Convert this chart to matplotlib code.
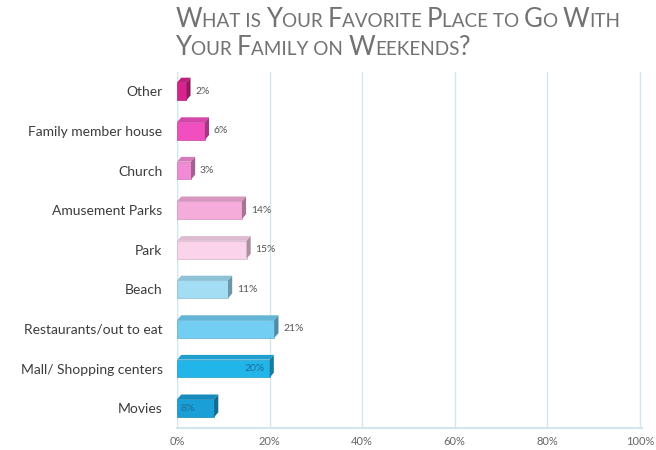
import numpy as np
import matplotlib
matplotlib.use("Agg")
import matplotlib.pyplot as plt
from matplotlib.patches import Polygon

# data, top to bottom as in the picture
categories = ["Other", "Family member house", "Church", "Amusement Parks", "Park",
              "Beach", "Restaurants/out to eat", "Mall/ Shopping centers", "Movies"]
values = [2, 6, 3, 14, 15, 11, 21, 20, 8]
bar_colors = ["#d8238f", "#f14fbf", "#f28bd6", "#f6acda", "#fbd4ec",
              "#a3ddf4", "#72cef2", "#22b5ea", "#1a9fd6"]
inside_label = [False, False, False, False, False, False, False, True, True]
x_ticks = [0, 20, 40, 60, 80, 100]
x_tick_labels = ["0%", "20%", "40%", "60%", "80%", "100%"]
title_lines = ["What is Your Favorite Place to Go With", "Your Family on Weekends?"]

FONT = "Lato"


def darken(c, f):
    r, g, b = matplotlib.colors.to_rgb(c)
    return (r * f, g * f, b * f)


def small_caps(fig, x, y, text, big=18.5, small=13.6, color="#727272", family=FONT):
    # fake small caps: capitals at full size, rest upper-cased at a smaller size
    renderer = fig.canvas.get_renderer()
    chunks = []
    for ch in text:
        size = big if (ch.isupper() or ch == "?") else small
        if chunks and chunks[-1][1] == size:
            chunks[-1][0] += ch
        else:
            chunks.append([ch, size])
    px = x * fig.bbox.width
    for s, size in chunks:
        t = fig.text(px / fig.bbox.width, y, s.upper(), fontsize=size, color=color,
                     family=family, va="baseline", ha="left")
        bb = t.get_window_extent(renderer)
        px += bb.width


fig = plt.figure(figsize=(6.56, 4.5), dpi=100)
ax = fig.add_axes([0.27, 0.049, 0.709, 0.792])

n = len(categories)
ypos = np.arange(n)[::-1]
h = 0.45
dx, dy = 0.9, 0.12

for y, v, c, inside in zip(ypos, values, bar_colors, inside_label):
    ax.barh(y, v, height=h, color=c, edgecolor=darken(c, 0.85), linewidth=0.5, zorder=3)
    # top face
    top = Polygon([(0, y + h / 2), (v, y + h / 2), (v + dx, y + h / 2 + dy), (dx, y + h / 2 + dy)],
                  closed=True, facecolor=darken(c, 0.88), edgecolor="none", zorder=3)
    # side face
    side = Polygon([(v, y - h / 2), (v + dx, y - h / 2 + dy), (v + dx, y + h / 2 + dy), (v, y + h / 2)],
                   closed=True, facecolor=darken(c, 0.68), edgecolor="none", zorder=3)
    ax.add_patch(top)
    ax.add_patch(side)
    label = "%d%%" % v
    if inside:
        if v > 10:
            ax.text(v - 1.0, y, label, ha="right", va="center", fontsize=7.5,
                    color="#1b6f99", family=FONT, zorder=4)
        else:
            ax.text(0.8, y, label, ha="left", va="center", fontsize=7.5,
                    color="#1b6f99", family=FONT, zorder=4)
    else:
        ax.text(v + dx + 1.0, y, label, ha="left", va="center", fontsize=7.5,
                color="#555555", family=FONT, zorder=4)

ax.set_xlim(0, 100.5)
ax.set_ylim(-0.5, n - 0.5)
ax.set_yticks(ypos)
ax.set_yticklabels(categories, fontsize=10, color="#3c3c3c", family=FONT)
ax.set_xticks(x_ticks)
ax.set_xticklabels(x_tick_labels, fontsize=8, color="#666666", family=FONT)
ax.tick_params(axis="both", length=0)
ax.tick_params(axis="y", pad=10.5)
ax.tick_params(axis="x", pad=6)

ax.grid(axis="x", color="#d3e6ee", linewidth=1.0, zorder=0)
for sp in ["top", "right", "left"]:
    ax.spines[sp].set_visible(False)
ax.spines["bottom"].set_color("#d3e6ee")
ax.spines["bottom"].set_linewidth(1.5)
ax.axvline(0, color="#d3e6ee", linewidth=1.0, zorder=0)

fig.canvas.draw()
small_caps(fig, 0.267, 1 - 27 / 450, title_lines[0])
small_caps(fig, 0.267, 1 - 55 / 450, title_lines[1])

fig.savefig("out.png", dpi=100)
